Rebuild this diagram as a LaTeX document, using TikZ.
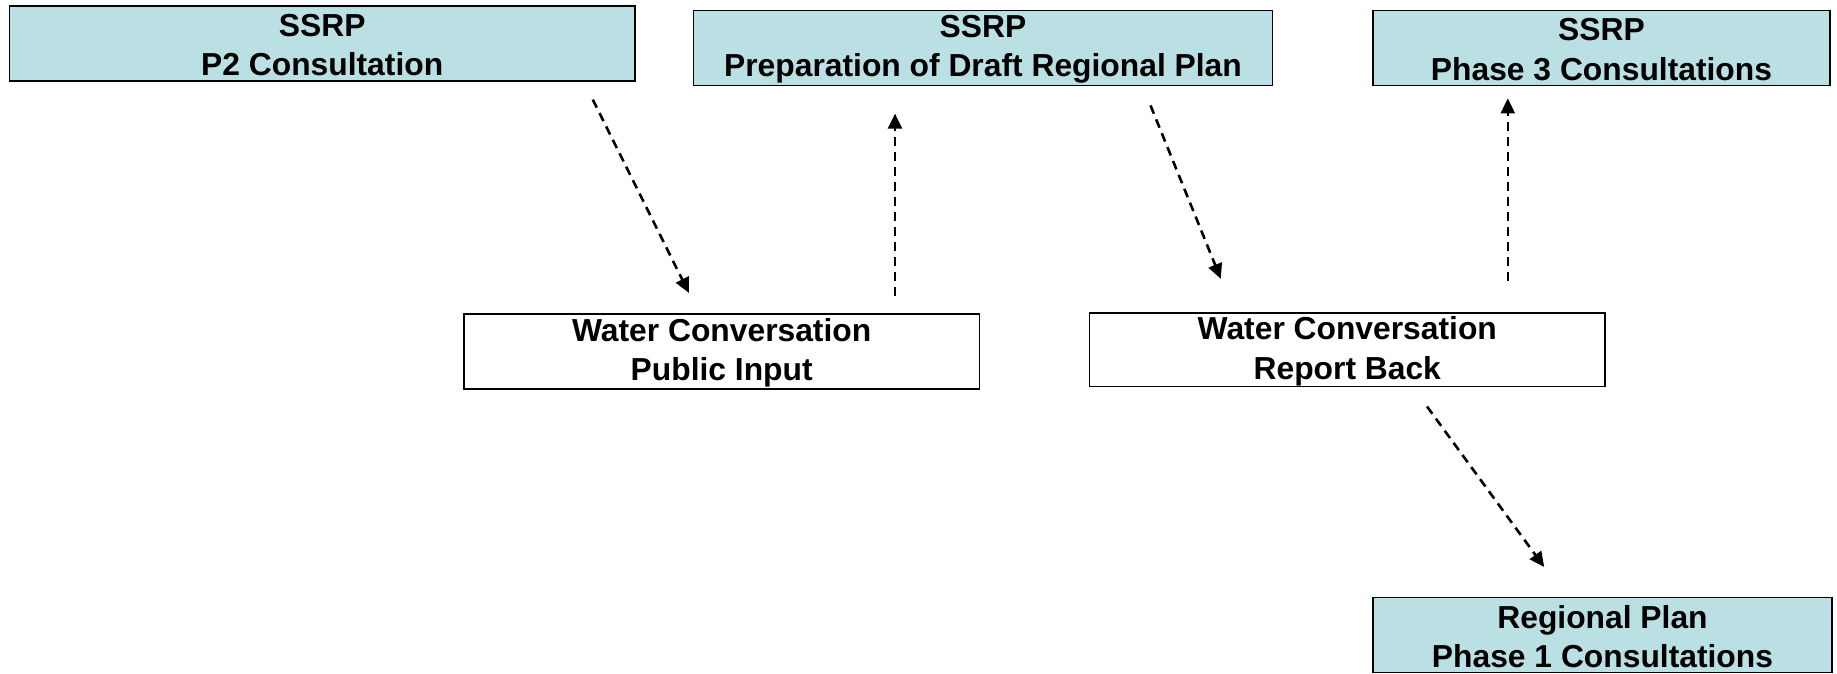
\documentclass[tikz,border=0pt]{standalone}
\usepackage{fontspec}
\setmainfont{Liberation Sans}
\usetikzlibrary{arrows.meta}
\definecolor{boxblue}{RGB}{186,224,228}
\begin{document}
\begin{tikzpicture}[x=1pt,y=-1pt,
  boxtext/.style={inner sep=0pt, align=center, yshift=-1.5pt,
    font=\fontsize{31.8}{39.5}\selectfont\bfseries},
  box/.style={draw=black, line width=1.6pt, inner sep=0pt},
  bluebox/.style={box, fill=boxblue},
  whitebox/.style={box, fill=white},
  flow/.style={line width=2.6pt, dash pattern=on 9pt off 6pt,
    -{Triangle[length=15pt,width=14pt]}}]
\useasboundingbox (0,0) rectangle (1837,673);
\node[bluebox, minimum width=625.6pt, minimum height=74.9pt,
  label={[boxtext]center:{SSRP\\P2 Consultation}}] (p2) at (322.2,43.4) {};
\node[bluebox, minimum width=578.8pt, minimum height=75pt,
  label={[boxtext]center:{SSRP\\Preparation of Draft Regional Plan}}] (draft) at (983,48) {};
\node[bluebox, minimum width=457pt, minimum height=75pt,
  label={[boxtext]center:{SSRP\\Phase 3 Consultations}}] (ph3) at (1601.5,48) {};
\node[whitebox, minimum width=515.5pt, minimum height=75pt,
  label={[boxtext]center:{Water Conversation\\Public Input}}] (pub) at (721.7,351.5) {};
\node[whitebox, minimum width=515.4pt, minimum height=73.8pt,
  label={[boxtext]center:{Water Conversation\\Report Back}}] (rep) at (1347.3,349.7) {};
\node[bluebox, minimum width=459pt, minimum height=75pt,
  label={[boxtext]center:{Regional Plan\\Phase 1 Consultations}}] (reg) at (1602.5,635) {};

\coordinate (a1s) at (592.8,99.6);
\coordinate (a1e) at (688.9,292.9);
\coordinate (a2s) at (895,296.4);
\coordinate (a2e) at (895,113.6);
\coordinate (a3s) at (1150.5,105.4);
\coordinate (a3e) at (1220.8,278.8);
\coordinate (a4s) at (1507.8,281.2);
\coordinate (a4e) at (1507.8,98.4);
\coordinate (a5s) at (1427,406.5);
\coordinate (a5e) at (1544.2,567);

\draw[flow] (a1s) -- (a1e);
\draw[flow] (a2s) -- (a2e);
\draw[flow] (a3s) -- (a3e);
\draw[flow] (a4s) -- (a4e);
\draw[flow] (a5s) -- (a5e);
\end{tikzpicture}
\end{document}
